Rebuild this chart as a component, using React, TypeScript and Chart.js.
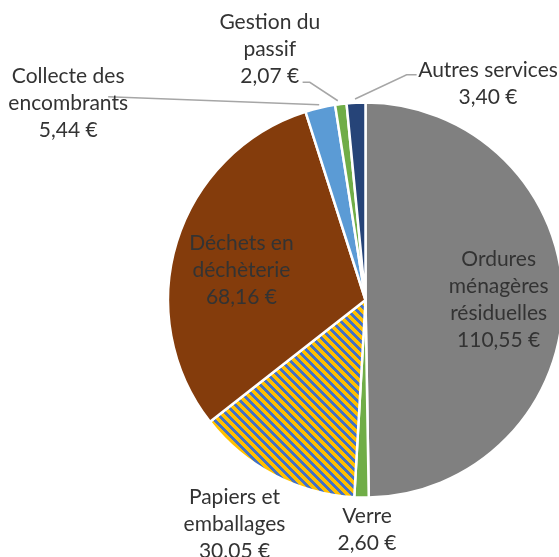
import React, { useEffect, useRef } from "react";
import { Chart, registerables } from "chart.js";

Chart.register(...registerables);

// ---- data ----
const categories = [
  "Ordures ménagères résiduelles",
  "Verre",
  "Papiers et emballages",
  "Déchets en déchèterie",
  "Collecte des encombrants",
  "Gestion du passif",
  "Autres services",
];
const values = [110.55, 2.6, 30.05, 68.16, 5.44, 2.07, 3.4];
const valueLabels = ["110,55 €", "2,60 €", "30.05 €", "68,16 €", "5,44 €", "2,07 €", "3,40 €"];
const nameLines = [
  ["Ordures", "ménagères", "résiduelles"],
  ["Verre"],
  ["Papiers et", "emballages"],
  ["Déchets en", "déchèterie"],
  ["Collecte des", "encombrants"],
  ["Gestion du", "passif"],
  ["Autres services"],
];

// ---- styles ----
const colors = ["#808080", "#70AD47", "PATTERN", "#843C0C", "#5B9BD5", "#70AD47", "#264478"];
type Place = { inside: boolean; dx: number; dy: number; leader?: [number, number][] };
const placements: Place[] = [
  { inside: true, dx: 4.8, dy: 1 },
  { inside: false, dx: 5.5, dy: 32 },
  { inside: false, dx: -39.5, dy: 49 },
  { inside: true, dx: -1.4, dy: 7.6 },
  { inside: false, dx: -252, dy: -5, leader: [[-1, -3], [-212, -11]] },
  { inside: false, dx: -71, dy: -55, leader: [[-3, -3.3], [-31, -21.7], [-38.2, -21.7]] },
  { inside: false, dx: 132, dy: -18.7, leader: [[-1, -3.7], [50.6, -28], [60.6, -28]] },
];
const FONT = "21px Lato";
const LINE_H = 27;
const TEXT_COLOR = "#333333";

function makeStripePattern(): CanvasPattern | string {
  const c = document.createElement("canvas");
  const n = 9;
  c.width = n;
  c.height = n;
  const g = c.getContext("2d");
  if (!g) return "#FFC000";
  const img = g.createImageData(n, n);
  for (let y = 0; y < n; y++) {
    for (let x = 0; x < n; x++) {
      const k = (((x - y) % n) + n) % n;
      const blue = k < 4;
      const i = (y * n + x) * 4;
      img.data[i] = blue ? 0x44 : 0xff;
      img.data[i + 1] = blue ? 0x72 : 0xc0;
      img.data[i + 2] = blue ? 0xc4 : 0x00;
      img.data[i + 3] = 255;
    }
  }
  g.putImageData(img, 0, 0);
  const p = g.createPattern(c, "repeat");
  return p || "#FFC000";
}

const labelPlugin = {
  id: "pieLabels",
  afterDatasetsDraw(chart: any) {
    const ctx: CanvasRenderingContext2D = chart.ctx;
    const meta = chart.getDatasetMeta(0);
    ctx.save();
    ctx.font = FONT;
    ctx.fillStyle = TEXT_COLOR;
    ctx.textAlign = "center";
    ctx.textBaseline = "middle";
    meta.data.forEach((arc: any, i: number) => {
      const { x, y, startAngle, endAngle, outerRadius } = arc.getProps(
        ["x", "y", "startAngle", "endAngle", "outerRadius"],
        true
      );
      const mid = (startAngle + endAngle) / 2;
      const pl = placements[i];
      const r = pl.inside ? outerRadius * 0.65 : outerRadius;
      const ax = x + Math.cos(mid) * r;
      const ay = y + Math.sin(mid) * r;
      if (pl.leader) {
        ctx.save();
        ctx.strokeStyle = "#A6A6A6";
        ctx.lineWidth = 1.5;
        ctx.beginPath();
        pl.leader.forEach(([lx, ly], j) => {
          if (j === 0) ctx.moveTo(ax + lx, ay + ly);
          else ctx.lineTo(ax + lx, ay + ly);
        });
        ctx.stroke();
        ctx.restore();
      }
      const lines = [...nameLines[i], valueLabels[i]];
      const cx = ax + pl.dx;
      const cy = ay + pl.dy;
      const top = cy - ((lines.length - 1) * LINE_H) / 2;
      lines.forEach((t, j) => ctx.fillText(t, cx, top + j * LINE_H));
    });
    ctx.restore();
  },
};

export default function App() {
  const ref = useRef<HTMLCanvasElement | null>(null);
  useEffect(() => {
    if (!ref.current) return;
    const pattern = makeStripePattern();
    const bg = colors.map((c) => (c === "PATTERN" ? pattern : c));
    const chart = new Chart(ref.current, {
      type: "pie",
      data: {
        labels: categories,
        datasets: [
          {
            data: values,
            backgroundColor: bg as any,
            borderColor: "#ffffff",
            borderWidth: 2.5,
            radius: 197.5,
          } as any,
        ],
      },
      options: {
        responsive: false,
        animation: false,
        devicePixelRatio: 1,
        layout: { padding: { left: 172, right: 0, top: 103, bottom: 60 } },
        plugins: {
          legend: { display: false },
          tooltip: { enabled: false },
        },
      },
      plugins: [labelPlugin],
    });
    return () => chart.destroy();
  }, []);
  return (
    <div style={{ position: "fixed", left: 0, top: 0, width: 559, height: 557, background: "#fff" }}>
      <canvas ref={ref} width={559} height={557} />
    </div>
  );
}
